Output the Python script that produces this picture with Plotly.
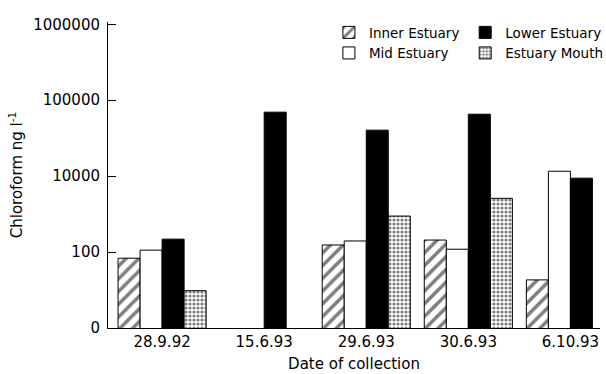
import plotly.graph_objects as go

dates = ["28.9.92", "15.6.93", "29.6.93", "30.6.93", "6.10.93"]
inner = [8.3, None, 12.4, 14.4, 4.3]
mid = [10.6, None, 14.0, 10.9, 116]
lower = [14.8, 696, 403, 654, 94]
mouth = [3.1, None, 29.8, 51, None]

tick_vals = [1, 10, 100, 1000, 10000]
tick_text = ["0", "100", "10000", "100000", "1000000"]

FONT = "DejaVu Sans, Liberation Sans, Arial, sans-serif"

fig = go.Figure()
fig.add_trace(go.Bar(x=dates, y=inner, name="Inner Estuary", legend="legend",
                     marker=dict(color="white", line=dict(color="black", width=1),
                                 pattern=dict(shape="/", fgcolor="black", bgcolor="white", size=9, solidity=0.4))))
fig.add_trace(go.Bar(x=dates, y=mid, name="Mid Estuary", legend="legend",
                     marker=dict(color="white", line=dict(color="black", width=1))))
fig.add_trace(go.Bar(x=dates, y=lower, name="Lower Estuary", legend="legend2",
                     marker=dict(color="black", line=dict(color="black", width=1))))
fig.add_trace(go.Bar(x=dates, y=mouth, name="Estuary Mouth", legend="legend2",
                     marker=dict(color="white", line=dict(color="black", width=1),
                                 pattern=dict(shape=".", fgcolor="black", bgcolor="white", size=4, solidity=0.5))))

fig.update_layout(
    width=606, height=374,
    margin=dict(l=108, r=6, t=22, b=46, autoexpand=False),
    paper_bgcolor="white", plot_bgcolor="white",
    font=dict(family=FONT, size=15, color="black"),
    barmode="group", bargap=0.137, bargroupgap=0,
    legend=dict(x=0.449, y=1.016, xanchor="left", yanchor="top", bgcolor="rgba(0,0,0,0)",
                font=dict(size=13.5), tracegroupgap=0, itemwidth=30),
    legend2=dict(x=0.726, y=1.016, xanchor="left", yanchor="top", bgcolor="rgba(0,0,0,0)",
                 font=dict(size=13.5), tracegroupgap=0, itemwidth=30),
    xaxis=dict(range=[-0.53, 4.29], showline=True, linecolor="black", linewidth=1,
               ticks="", showgrid=False, zeroline=False,
               title=dict(text="Date of collection", standoff=8, font=dict(size=15))),
    yaxis=dict(type="log", range=[0, 4.03], tickvals=tick_vals, ticktext=tick_text,
               showline=True, linecolor="black", linewidth=1, ticks="inside", ticklen=8,
               tickcolor="black", showgrid=False, zeroline=False, ticklabelstandoff=4,
               title=dict(text="Chloroform ng l<sup>-1</sup>", standoff=6, font=dict(size=15))),
)

fig.write_html("out.html")
